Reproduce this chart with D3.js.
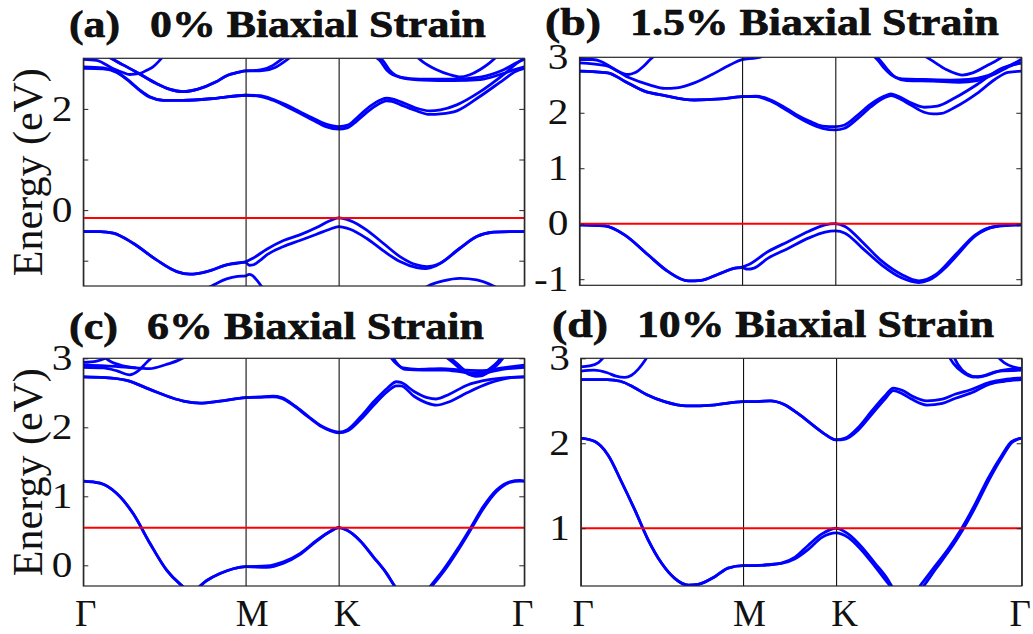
<!DOCTYPE html>
<html>
<head>
<meta charset="utf-8">
<script src="https://cdn.jsdelivr.net/npm/d3@7"></script>
<style>
  body { margin: 0; background: #fff; }
  text { font-family: "Liberation Serif", "Times New Roman", serif; fill: #111; }
</style>
</head>
<body>
<script>
// high-symmetry path
let kLabels = ['Γ', 'M', 'K', 'Γ'];
let kTicks = [0, 0.368, 0.579, 1];

let tags = ['(a)', '(b)', '(c)', '(d)'];
let strains = ['0% Biaxial Strain', '1.5% Biaxial Strain', '6% Biaxial Strain', '10% Biaxial Strain'];
let fermi = [-0.155, 0, 0.545, 1.0];
let yDomains = [[-1.5, 3], [-1.11, 3], [-0.3, 3], [0.32, 3]];
let yTicks = [[-1, 0, 1, 2], [-1, 0, 1, 2, 3], [0, 1, 2, 3], [1, 2, 3]];
let yTickLabels = [['', '0', '', '2'], ['-1', '0', '1', '2', '3'], ['0', '1', '2', '3'], ['1', '2', '3']];

// bands, [k, E(eV)]
let bandsA = [
  [[0,-0.424],[0.038,-0.424],[0.068,-0.457],[0.113,-0.655],[0.166,-0.984],[0.212,-1.215],[0.242,-1.267],[0.28,-1.215],[0.325,-1.083],[0.368,-1.02],[0.385,-0.95],[0.416,-0.773],[0.454,-0.6],[0.491,-0.49],[0.529,-0.345],[0.559,-0.21],[0.579,-0.155],[0.605,-0.207],[0.642,-0.39],[0.68,-0.655],[0.718,-0.918],[0.756,-1.083],[0.779,-1.116],[0.809,-1.05],[0.854,-0.754],[0.892,-0.523],[0.93,-0.437],[0.97,-0.424],[1,-0.424]],
  [[0,-0.424],[0.038,-0.424],[0.068,-0.457],[0.113,-0.655],[0.166,-0.984],[0.212,-1.215],[0.242,-1.267],[0.28,-1.215],[0.325,-1.083],[0.368,-1.03],[0.376,-1.09],[0.386,-1.08],[0.4,-1.0],[0.416,-0.885],[0.454,-0.72],[0.491,-0.6],[0.529,-0.477],[0.559,-0.378],[0.579,-0.325],[0.605,-0.378],[0.642,-0.556],[0.68,-0.8],[0.718,-1.017],[0.756,-1.136],[0.776,-1.155],[0.8,-1.1],[0.854,-0.754],[0.892,-0.523],[0.93,-0.437],[0.97,-0.424],[1,-0.424]],
  [[0.25,-1.68],[0.291,-1.5],[0.325,-1.36],[0.35,-1.31],[0.368,-1.3],[0.376,-1.27],[0.383,-1.29],[0.393,-1.38],[0.405,-1.52],[0.415,-1.65]],
  [[0.76,-1.62],[0.782,-1.5],[0.816,-1.4],[0.854,-1.35],[0.892,-1.38],[0.93,-1.5],[0.95,-1.6]],
  [[0,2.83],[0.045,2.81],[0.076,2.73],[0.106,2.54],[0.13,2.36],[0.151,2.24],[0.182,2.17],[0.226,2.17],[0.3,2.21],[0.368,2.27],[0.4,2.26],[0.43,2.19],[0.46,2.08],[0.49,1.95],[0.52,1.82],[0.55,1.7],[0.579,1.65],[0.6,1.68],[0.62,1.82],[0.65,2.05],[0.675,2.18],[0.688,2.21],[0.7,2.2],[0.72,2.14],[0.75,2.03],[0.786,1.96],[0.81,1.98],[0.847,2.08],[0.9,2.34],[0.952,2.67],[0.994,2.96],[1,2.98]],
  [[0,2.8],[0.045,2.79],[0.076,2.72],[0.106,2.53],[0.13,2.35],[0.151,2.23],[0.182,2.17],[0.226,2.17],[0.3,2.21],[0.368,2.27],[0.4,2.25],[0.43,2.17],[0.46,2.05],[0.49,1.92],[0.52,1.78],[0.55,1.65],[0.579,1.6],[0.6,1.63],[0.62,1.76],[0.65,1.98],[0.675,2.12],[0.688,2.16],[0.7,2.15],[0.72,2.08],[0.75,1.98],[0.786,1.89],[0.81,1.9],[0.847,1.96],[0.9,2.25],[0.952,2.57],[0.98,2.74],[1,2.8]],
  [[0.05,3.06],[0.063,3.0],[0.09,2.87],[0.12,2.73],[0.166,2.5],[0.195,2.39],[0.226,2.34],[0.26,2.39],[0.3,2.53],[0.324,2.65],[0.35,2.72],[0.368,2.75],[0.39,2.76],[0.407,2.78],[0.43,2.86],[0.453,3.0],[0.47,3.1]],
  [[0.05,3.06],[0.063,3.0],[0.09,2.87],[0.12,2.73],[0.166,2.5],[0.195,2.39],[0.226,2.34],[0.26,2.39],[0.3,2.53],[0.324,2.65],[0.35,2.72],[0.368,2.75],[0.39,2.75],[0.41,2.76],[0.435,2.82],[0.46,2.96],[0.475,3.06]],
  [[0,2.98],[0.03,2.96],[0.067,2.8],[0.09,2.72],[0.105,2.68],[0.128,2.7],[0.145,2.77],[0.158,2.83],[0.17,2.93],[0.18,3.03]],
  [[0.66,3.04],[0.672,2.96],[0.688,2.77],[0.718,2.63],[0.763,2.59],[0.839,2.59],[0.9,2.63],[0.952,2.77],[0.994,2.96],[1,2.98]],
  [[0.668,3.04],[0.68,2.95],[0.695,2.76],[0.725,2.61],[0.77,2.57],[0.84,2.56],[0.9,2.58],[0.952,2.7],[0.98,2.78],[1,2.83]],
  [[0.755,3.04],[0.77,2.93],[0.8,2.78],[0.83,2.68],[0.855,2.63],[0.875,2.67],[0.9,2.78],[0.92,2.9],[0.937,3.03]]
];

let bandsB = [
  [[0,-0.02],[0.057,-0.04],[0.102,-0.2],[0.155,-0.56],[0.2,-0.86],[0.246,-1.03],[0.276,-1.02],[0.314,-0.91],[0.352,-0.8],[0.368,-0.78],[0.382,-0.74],[0.427,-0.5],[0.473,-0.32],[0.518,-0.14],[0.556,-0.02],[0.579,0],[0.601,-0.05],[0.639,-0.32],[0.685,-0.68],[0.73,-0.92],[0.768,-1.03],[0.806,-0.92],[0.851,-0.56],[0.896,-0.2],[0.942,-0.05],[1,-0.02]],
  [[0,-0.02],[0.057,-0.04],[0.102,-0.2],[0.155,-0.56],[0.2,-0.86],[0.246,-1.03],[0.276,-1.02],[0.314,-0.91],[0.352,-0.8],[0.368,-0.79],[0.38,-0.82],[0.395,-0.8],[0.427,-0.62],[0.473,-0.44],[0.518,-0.26],[0.556,-0.15],[0.579,-0.13],[0.601,-0.17],[0.639,-0.43],[0.685,-0.75],[0.73,-0.98],[0.768,-1.06],[0.79,-1.02],[0.83,-0.78],[0.851,-0.6],[0.896,-0.22],[0.942,-0.05],[1,-0.02]],
  [[0,2.75],[0.064,2.72],[0.102,2.57],[0.147,2.39],[0.193,2.31],[0.26,2.23],[0.32,2.25],[0.368,2.29],[0.4,2.3],[0.43,2.24],[0.46,2.12],[0.49,1.97],[0.52,1.85],[0.55,1.76],[0.579,1.75],[0.6,1.78],[0.63,1.96],[0.66,2.16],[0.69,2.3],[0.705,2.34],[0.72,2.3],[0.75,2.18],[0.78,2.1],[0.81,2.12],[0.85,2.27],[0.9,2.51],[0.95,2.78],[1,2.9]],
  [[0,2.75],[0.064,2.72],[0.102,2.57],[0.147,2.39],[0.193,2.31],[0.26,2.23],[0.32,2.25],[0.368,2.29],[0.4,2.29],[0.43,2.22],[0.46,2.09],[0.49,1.94],[0.52,1.81],[0.55,1.72],[0.579,1.69],[0.6,1.72],[0.63,1.9],[0.66,2.11],[0.69,2.27],[0.705,2.31],[0.72,2.27],[0.75,2.14],[0.78,2.01],[0.8,1.98],[0.82,1.99],[0.85,2.1],[0.9,2.35],[0.94,2.6],[0.97,2.73],[1,2.75]],
  [[0,2.9],[0.06,2.85],[0.11,2.64],[0.16,2.5],[0.193,2.44],[0.22,2.45],[0.26,2.54],[0.3,2.69],[0.34,2.86],[0.368,2.96],[0.4,2.99],[0.42,3.03]],
  [[0,2.96],[0.03,2.96],[0.05,2.92],[0.07,2.83],[0.09,2.74],[0.11,2.69],[0.125,2.72],[0.145,2.84],[0.16,2.96],[0.17,3.03]],
  [[0.665,3.03],[0.675,2.95],[0.69,2.8],[0.71,2.66],[0.73,2.61],[0.78,2.6],[0.84,2.59],[0.88,2.6],[0.92,2.66],[0.96,2.8],[1,2.96]],
  [[0.67,3.03],[0.68,2.95],[0.695,2.8],[0.715,2.64],[0.74,2.58],[0.8,2.57],[0.86,2.55],[0.9,2.58],[0.94,2.7],[0.98,2.86],[1,2.9]],
  [[0.78,3.03],[0.8,2.93],[0.83,2.78],[0.866,2.68],[0.89,2.72],[0.92,2.84],[0.95,2.97],[0.96,3.03]]
];

let bandsC = [
  [[0,1.22],[0.038,1.19],[0.076,1.04],[0.113,0.75],[0.151,0.32],[0.189,-0.07],[0.219,-0.27],[0.245,-0.38],[0.28,-0.22],[0.31,-0.12],[0.34,-0.05],[0.368,-0.02],[0.416,-0.01],[0.454,0.05],[0.491,0.17],[0.529,0.36],[0.559,0.49],[0.579,0.545],[0.597,0.51],[0.627,0.36],[0.658,0.12],[0.688,-0.12],[0.707,-0.31],[0.745,-0.62],[0.786,-0.31],[0.816,-0.07],[0.847,0.22],[0.877,0.53],[0.907,0.85],[0.937,1.09],[0.967,1.21],[0.99,1.23],[1,1.22]],
  [[0,1.22],[0.038,1.19],[0.076,1.04],[0.113,0.75],[0.151,0.32],[0.189,-0.07],[0.219,-0.27],[0.245,-0.38],[0.28,-0.22],[0.31,-0.12],[0.34,-0.05],[0.368,-0.02],[0.416,-0.03],[0.454,0.03],[0.491,0.155],[0.529,0.35],[0.559,0.485],[0.579,0.545],[0.597,0.51],[0.627,0.36],[0.658,0.12],[0.688,-0.12],[0.707,-0.31],[0.745,-0.55],[0.786,-0.33],[0.816,-0.1],[0.847,0.19],[0.877,0.5],[0.907,0.82],[0.937,1.07],[0.967,1.2],[0.99,1.22],[1,1.22]],
  [[0,2.73],[0.05,2.72],[0.098,2.68],[0.151,2.55],[0.2,2.43],[0.227,2.38],[0.265,2.35],[0.31,2.38],[0.368,2.43],[0.4,2.44],[0.43,2.45],[0.45,2.43],[0.48,2.31],[0.51,2.16],[0.54,2.02],[0.56,1.96],[0.579,1.93],[0.6,1.97],[0.63,2.16],[0.66,2.38],[0.69,2.57],[0.71,2.66],[0.72,2.65],[0.75,2.52],[0.78,2.43],[0.8,2.41],[0.83,2.48],[0.87,2.61],[0.92,2.69],[0.96,2.72],[1,2.73]],
  [[0,2.73],[0.05,2.72],[0.098,2.68],[0.151,2.55],[0.2,2.43],[0.227,2.38],[0.265,2.35],[0.31,2.38],[0.368,2.43],[0.4,2.435],[0.43,2.44],[0.45,2.42],[0.48,2.3],[0.51,2.15],[0.54,2.01],[0.56,1.95],[0.579,1.92],[0.6,1.95],[0.63,2.12],[0.66,2.33],[0.69,2.52],[0.71,2.6],[0.72,2.6],[0.75,2.45],[0.78,2.35],[0.8,2.32],[0.83,2.37],[0.87,2.5],[0.92,2.64],[0.96,2.71],[1,2.73]],
  [[0,2.9],[0.05,2.89],[0.1,2.87],[0.15,2.85],[0.188,2.91],[0.215,2.97],[0.234,3.03]],
  [[0,2.87],[0.045,2.86],[0.075,2.82],[0.105,2.76],[0.125,2.82],[0.142,2.93],[0.158,3.03]],
  [[0,2.94],[0.03,2.96],[0.05,3.0],[0.06,3.03]],
  [[0.045,3.03],[0.06,2.96],[0.09,2.89],[0.12,2.86]],
  [[0.695,3.03],[0.71,2.92],[0.725,2.86],[0.76,2.84],[0.81,2.85],[0.86,2.83],[0.9,2.82],[0.95,2.86],[1,2.9]],
  [[0.7,3.03],[0.715,2.9],[0.73,2.84],[0.77,2.83],[0.82,2.83],[0.86,2.8],[0.9,2.78],[0.95,2.84],[1,2.87]],
  [[0.82,3.03],[0.84,2.93],[0.86,2.82],[0.884,2.75],[0.9,2.76],[0.92,2.84],[0.94,2.95],[0.95,3.03]],
  [[0.828,3.03],[0.848,2.92],[0.868,2.81],[0.89,2.74],[0.905,2.75],[0.925,2.83],[0.945,2.95],[0.955,3.03]]
];

let bandsD = [
  [[0,2.06],[0.032,2.02],[0.062,1.86],[0.092,1.55],[0.123,1.21],[0.153,0.86],[0.183,0.59],[0.213,0.41],[0.244,0.33],[0.266,0.34],[0.304,0.43],[0.334,0.53],[0.368,0.56],[0.395,0.56],[0.425,0.57],[0.455,0.59],[0.486,0.66],[0.516,0.8],[0.546,0.93],[0.579,1.0],[0.607,0.93],[0.637,0.78],[0.667,0.59],[0.697,0.39],[0.705,0.32],[0.737,0.12],[0.769,0.32],[0.803,0.55],[0.834,0.76],[0.864,1.0],[0.894,1.28],[0.924,1.59],[0.955,1.86],[0.977,2.02],[1,2.06]],
  [[0,2.06],[0.032,2.02],[0.062,1.86],[0.092,1.55],[0.123,1.21],[0.153,0.86],[0.183,0.59],[0.213,0.41],[0.244,0.33],[0.266,0.34],[0.304,0.43],[0.334,0.53],[0.368,0.56],[0.395,0.56],[0.425,0.57],[0.455,0.585],[0.486,0.64],[0.516,0.75],[0.546,0.89],[0.579,0.946],[0.607,0.89],[0.637,0.74],[0.667,0.55],[0.697,0.35],[0.71,0.27],[0.745,0.1],[0.775,0.3],[0.805,0.52],[0.836,0.74],[0.866,0.98],[0.896,1.26],[0.926,1.57],[0.957,1.85],[0.978,2.01],[1,2.06]],
  [[0,2.75],[0.06,2.75],[0.09,2.73],[0.12,2.66],[0.15,2.57],[0.19,2.49],[0.24,2.44],[0.3,2.45],[0.368,2.49],[0.4,2.49],[0.43,2.5],[0.46,2.46],[0.49,2.36],[0.52,2.24],[0.55,2.12],[0.579,2.04],[0.6,2.06],[0.63,2.19],[0.66,2.38],[0.69,2.56],[0.709,2.65],[0.73,2.62],[0.75,2.56],[0.785,2.5],[0.82,2.52],[0.85,2.58],[0.884,2.63],[0.929,2.72],[0.96,2.75],[1,2.77]],
  [[0,2.75],[0.06,2.75],[0.09,2.73],[0.12,2.66],[0.15,2.57],[0.19,2.49],[0.24,2.44],[0.3,2.45],[0.368,2.49],[0.4,2.49],[0.43,2.5],[0.46,2.46],[0.49,2.36],[0.52,2.24],[0.55,2.12],[0.579,2.04],[0.6,2.05],[0.63,2.16],[0.66,2.34],[0.69,2.52],[0.709,2.62],[0.73,2.58],[0.75,2.52],[0.785,2.45],[0.82,2.47],[0.85,2.53],[0.884,2.59],[0.929,2.7],[0.96,2.73],[1,2.75]],
  [[0,2.85],[0.03,2.86],[0.06,2.83],[0.08,2.79],[0.1,2.775],[0.115,2.8],[0.13,2.87],[0.145,2.97],[0.152,3.03]],
  [[0,2.9],[0.02,2.91],[0.04,2.95],[0.055,3.03]],
  [[0.834,3.03],[0.845,2.94],[0.865,2.84],[0.89,2.78],[0.91,2.79],[0.94,2.84],[0.97,2.87],[1,2.88]],
  [[0.845,3.03],[0.855,2.93],[0.875,2.82],[0.9,2.78],[0.92,2.8],[0.95,2.85],[1,2.86]],
  [[0.943,3.03],[0.96,2.95],[0.98,2.9],[1,2.88]]
];

let allBands = [bandsA, bandsB, bandsC, bandsD];

// pixel boxes of the four axes
let boxes = [
  {x0: 83.3, x1: 524.3, y0: 58.3, y1: 286},
  {x0: 579.5, x1: 1021.3, y0: 57.3, y1: 285.3},
  {x0: 83.3, x1: 524.3, y0: 358.3, y1: 586},
  {x0: 580.8, x1: 1021.7, y0: 358.3, y1: 586}
];
// title placement: [tag x, tag length, text x, text length, baseline]
let titlePos = [
  [69, 51, 150, 336, 37],
  [545, 56, 630, 369, 35],
  [69, 49, 147, 337, 339],
  [552, 56, 637, 357, 336.7]
];
let labelNudge = [2, 6, 8, -2];
let serif = '"Liberation Serif", "Times New Roman", serif';

let svg = d3.select('body').append('svg')
  .attr('width', 1033)
  .attr('height', 634);

boxes.forEach(function (b, i) {
  let x = d3.scaleLinear().domain([0, 1]).range([b.x0, b.x1]);
  let y = d3.scaleLinear().domain(yDomains[i]).range([b.y1, b.y0]);
  let h = b.y1 - b.y0;

  svg.append('clipPath').attr('id', 'clip' + i)
    .append('rect')
    .attr('x', b.x0).attr('y', b.y0)
    .attr('width', b.x1 - b.x0).attr('height', h);

  let g = svg.append('g');

  // bands
  let line = d3.line()
    .curve(d3.curveMonotoneX)
    .x(function (d) { return x(d[0]); })
    .y(function (d) { return y(d[1]); });

  g.append('g')
    .attr('clip-path', 'url(#clip' + i + ')')
    .selectAll('path')
    .data(allBands[i])
    .join('path')
    .attr('d', line)
    .attr('fill', 'none')
    .attr('stroke', '#0000ff')
    .attr('stroke-width', 2.8)
    .attr('stroke-linejoin', 'round');

  // high-symmetry lines + k labels
  let xa = g.append('g')
    .attr('transform', 'translate(0,' + b.y1 + ')')
    .call(d3.axisBottom(x)
      .tickValues(kTicks)
      .tickSize(-h)
      .tickPadding(14)
      .tickFormat(function (d, j) { return i > 1 ? kLabels[j] : ''; }));
  xa.select('.domain').remove();
  xa.selectAll('line').attr('stroke', '#111').attr('stroke-width', 1.1);
  xa.selectAll('text')
    .attr('font-size', 37)
    .attr('dx', function (d, j) { return labelNudge[j]; })
    .style('font-family', serif)
    .attr('fill', '#111');

  // Fermi level
  g.append('line')
    .attr('x1', b.x0).attr('x2', b.x1)
    .attr('y1', y(fermi[i])).attr('y2', y(fermi[i]))
    .attr('stroke', '#ff0000')
    .attr('stroke-width', 2);

  // y axes, ticks inward on both sides
  let ya = g.append('g')
    .attr('transform', 'translate(' + b.x0 + ',0)')
    .call(d3.axisLeft(y)
      .tickValues(yTicks[i])
      .tickSize(-5)
      .tickPadding(11)
      .tickFormat(function (d, j) { return yTickLabels[i][j]; }));
  ya.select('.domain').remove();
  ya.selectAll('line').attr('stroke', '#262626');
  ya.selectAll('text')
    .attr('font-size', 35)
    .style('font-family', serif)
    .attr('fill', '#111')
    .each(function () {
      if (!this.textContent) return;
      let w = this.getComputedTextLength() * 1.18;
      d3.select(this)
        .attr('text-anchor', 'start')
        .attr('x', -11 - w)
        .attr('textLength', w)
        .attr('lengthAdjust', 'spacingAndGlyphs');
    });

  let yr = g.append('g')
    .attr('transform', 'translate(' + b.x1 + ',0)')
    .call(d3.axisRight(y).tickValues(yTicks[i]).tickSize(-5).tickFormat(function () { return ''; }));
  yr.select('.domain').remove();
  yr.selectAll('line').attr('stroke', '#262626');

  // frame
  g.append('rect')
    .attr('x', b.x0).attr('y', b.y0)
    .attr('width', b.x1 - b.x0).attr('height', h)
    .attr('fill', 'none')
    .attr('stroke', '#262626')
    .attr('stroke-width', 1.2);

  // titles
  let tp = titlePos[i];
  svg.append('text')
    .attr('x', tp[0]).attr('y', tp[4])
    .style('font-family', serif)
    .attr('font-size', 38).attr('font-weight', 'bold')
    .attr('stroke', '#000').attr('stroke-width', 0.6)
    .attr('textLength', tp[1]).attr('lengthAdjust', 'spacingAndGlyphs')
    .text(tags[i]);
  svg.append('text')
    .attr('x', tp[2]).attr('y', tp[4])
    .style('font-family', serif)
    .attr('font-size', 38).attr('font-weight', 'bold')
    .attr('stroke', '#000').attr('stroke-width', 0.6)
    .attr('textLength', tp[3]).attr('lengthAdjust', 'spacingAndGlyphs')
    .text(strains[i]);

  // y label on the left column
  if (i % 2 === 0) {
    svg.append('text')
      .attr('transform', 'translate(42,' + ((b.y0 + b.y1) / 2) + ') rotate(-90)')
      .attr('text-anchor', 'middle')
      .style('font-family', serif)
      .attr('font-size', 42)
      .text('Energy (eV)');
  }
});
</script>
</body>
</html>
